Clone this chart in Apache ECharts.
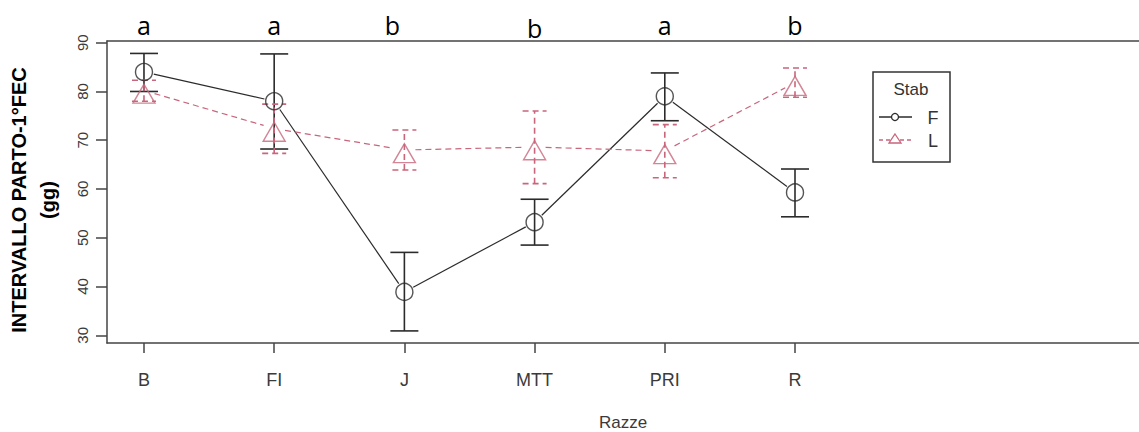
<!DOCTYPE html>
<html><head><meta charset="utf-8">
<script src="https://cdn.jsdelivr.net/npm/echarts@6/dist/echarts.min.js"></script>
<style>html,body{margin:0;padding:0;background:#fff}#c{width:1139px;height:432px}</style>
</head><body><div id="c"></div>
<script>
// ---- data ----
const categories = ['B', 'FI', 'J', 'MTT', 'PRI', 'R'];
const groupLetters = ['a', 'a', 'b', 'b', 'a', 'b'];
const yTicks = [30, 40, 50, 60, 70, 80, 90];
const fMean = [84.0, 78.0, 38.9, 53.2, 79.0, 59.3];
const fLow  = [80.0, 68.2, 30.9, 48.5, 74.0, 54.3];
const fHigh = [87.8, 87.7, 47.0, 57.9, 83.8, 64.1];
const lMean = [80.2, 72.4, 68.0, 68.6, 67.8, 81.8];
const lLow  = [78.0, 67.3, 63.9, 61.1, 62.3, 78.8];
const lHigh = [82.3, 77.4, 72.1, 76.0, 73.2, 84.8];

// ---- styles ----
const BLACK = '#2b2b2b';
const PINK = '#c8667c';
const FONT = '"Liberation Sans", Arial, sans-serif';
const BOX = { show: true, onZero: false, lineStyle: { color: '#444', width: 1.5 } };
const xPos = categories.map((c, i) => i + 1);

function errorBars(means, lows, highs, color, dash, capHalf) {
  return {
    type: 'custom', silent: true, z: 3,
    data: xPos.map((x, i) => [x, lows[i], highs[i]]),
    encode: { x: 0, y: [1, 2] },
    renderItem(params, api) {
      const x = api.value(0);
      const lo = api.coord([x, api.value(1)]);
      const hi = api.coord([x, api.value(2)]);
      const style = { stroke: color, lineWidth: 1.6, lineDash: dash, fill: null };
      return { type: 'group', children: [
        { type: 'line', shape: { x1: lo[0], y1: lo[1], x2: hi[0], y2: hi[1] }, style },
        { type: 'line', shape: { x1: lo[0] - capHalf, y1: lo[1], x2: lo[0] + capHalf, y2: lo[1] }, style },
        { type: 'line', shape: { x1: hi[0] - capHalf, y1: hi[1], x2: hi[0] + capHalf, y2: hi[1] }, style }
      ]};
    }
  };
}

function connectors(means, color, dash, gap) {
  const segs = [];
  for (let i = 0; i < means.length - 1; i++) segs.push([xPos[i], means[i], xPos[i + 1], means[i + 1]]);
  return {
    type: 'custom', silent: true, z: 2,
    data: segs,
    encode: { x: [0, 2], y: [1, 3] },
    renderItem(params, api) {
      const p1 = api.coord([api.value(0), api.value(1)]);
      const p2 = api.coord([api.value(2), api.value(3)]);
      const dx = p2[0] - p1[0], dy = p2[1] - p1[1];
      const len = Math.hypot(dx, dy), ux = dx / len, uy = dy / len;
      return { type: 'line',
        shape: { x1: p1[0] + ux * gap, y1: p1[1] + uy * gap, x2: p2[0] - ux * gap, y2: p2[1] - uy * gap },
        style: { stroke: color, lineWidth: 1.2, lineDash: dash, fill: null } };
    }
  };
}

const chart = echarts.init(document.getElementById('c'), null, { renderer: 'svg' });
chart.setOption({
  backgroundColor: '#fff',
  animation: false,
  grid: { left: 107, top: 41, bottom: 89, right: 0, outerBoundsMode: 'none', containLabel: false, show: false },
  xAxis: [{
    type: 'value', min: 0.716, max: 8.642, position: 'bottom',
    axisLine: BOX, splitLine: { show: false },
    axisTick: { show: true, customValues: xPos, length: 10, lineStyle: { color: '#444', width: 1.5 } },
    axisLabel: { customValues: xPos, formatter: v => categories[Math.round(v) - 1] || '', fontSize: 18, color: '#3a3a3a', fontFamily: FONT, margin: 28 },
    name: 'Razze', nameLocation: 'middle', nameGap: 71,
    nameTextStyle: { fontSize: 17, color: '#3a3a3a', fontFamily: FONT }
  }, {
    type: 'value', min: 0.716, max: 8.642, position: 'top',
    axisLine: BOX, splitLine: { show: false }, axisTick: { show: false },
    axisLabel: {
      customValues: xPos, margin: 1, fontSize: 25, color: '#000', fontFamily: '"Open Sans", sans-serif',
      formatter: v => {
        const i = Math.round(v) - 1;
        if (i === 2) return '{s|' + groupLetters[i] + '}';
        if (i === 3) return '{d|' + groupLetters[i] + '}';
        return '{n|' + groupLetters[i] + '}';
      },
      rich: {
        n: { fontSize: 25, fontFamily: '"Open Sans", sans-serif', color: '#000', padding: [0, 0, 3, 0] },
        s: { fontSize: 25, fontFamily: '"Open Sans", sans-serif', color: '#000', padding: [0, 24, 3, 0] },
        d: { fontSize: 25, fontFamily: '"Open Sans", sans-serif', color: '#000', padding: [0, 0, 0, 0] }
      }
    }
  }],
  yAxis: {
    type: 'value', min: 28.42, max: 90.35,
    axisLine: BOX, splitLine: { show: false },
    axisTick: { show: true, customValues: yTicks, length: 11, lineStyle: { color: '#444', width: 1.5 } },
    axisLabel: { customValues: yTicks, rotate: 90, fontSize: 15, color: '#3a3a3a', fontFamily: FONT, margin: 17 }
  },
  series: [
    connectors(fMean, BLACK, null, 10),
    connectors(lMean, PINK, [6, 4], 11),
    errorBars(fMean, fLow, fHigh, BLACK, null, 14),
    errorBars(lMean, lLow, lHigh, PINK, [6, 4], 12),
    { type: 'scatter', name: 'F', z: 4, silent: true,
      data: xPos.map((x, i) => [x, fMean[i]]),
      symbol: 'circle', symbolSize: 17,
      itemStyle: { color: 'rgba(0,0,0,0)', borderColor: BLACK, borderWidth: 1.4 } },
    { type: 'scatter', name: 'L', z: 4, silent: true,
      data: xPos.map((x, i) => [x, lMean[i]]),
      symbol: 'triangle', symbolSize: [22, 19], symbolOffset: [0, 3.2],
      itemStyle: { color: 'rgba(0,0,0,0)', borderColor: PINK, borderWidth: 1.4 } }
  ],
  graphic: [
    { type: 'text', x: 19, y: 200, rotation: Math.PI / 2,
      style: { text: 'INTERVALLO PARTO-1°FEC', fontSize: 20, fontWeight: 'bold', fontFamily: FONT, fill: '#000', align: 'center', verticalAlign: 'middle' } },
    { type: 'text', x: 48, y: 200, rotation: Math.PI / 2,
      style: { text: '(gg)', fontSize: 20, fontWeight: 'bold', fontFamily: FONT, fill: '#000', align: 'center', verticalAlign: 'middle' } },
    // legend
    { type: 'rect', shape: { x: 873, y: 72, width: 77, height: 90 }, style: { fill: '#fff', stroke: '#333', lineWidth: 1.5 } },
    { type: 'text', x: 911, y: 89, style: { text: 'Stab', fontSize: 17, fontFamily: FONT, fill: '#333', align: 'center', verticalAlign: 'middle' } },
    { type: 'line', shape: { x1: 879, y1: 117, x2: 912, y2: 117 }, style: { stroke: BLACK, lineWidth: 1.3 } },
    { type: 'circle', shape: { cx: 895, cy: 117, r: 3.5 }, style: { fill: '#fff', stroke: BLACK, lineWidth: 1.3 } },
    { type: 'text', x: 933, y: 118, style: { text: 'F', fontSize: 18, fontFamily: FONT, fill: '#333', align: 'center', verticalAlign: 'middle' } },
    { type: 'line', shape: { x1: 879, y1: 140, x2: 912, y2: 140 }, style: { stroke: PINK, lineWidth: 1.3, lineDash: [4, 3] } },
    { type: 'polygon', shape: { points: [[895, 134], [901, 143], [889, 143]] }, style: { fill: '#fff', stroke: PINK, lineWidth: 1.3 } },
    { type: 'text', x: 933, y: 141, style: { text: 'L', fontSize: 18, fontFamily: FONT, fill: '#333', align: 'center', verticalAlign: 'middle' } }
  ]
});
</script></body></html>
